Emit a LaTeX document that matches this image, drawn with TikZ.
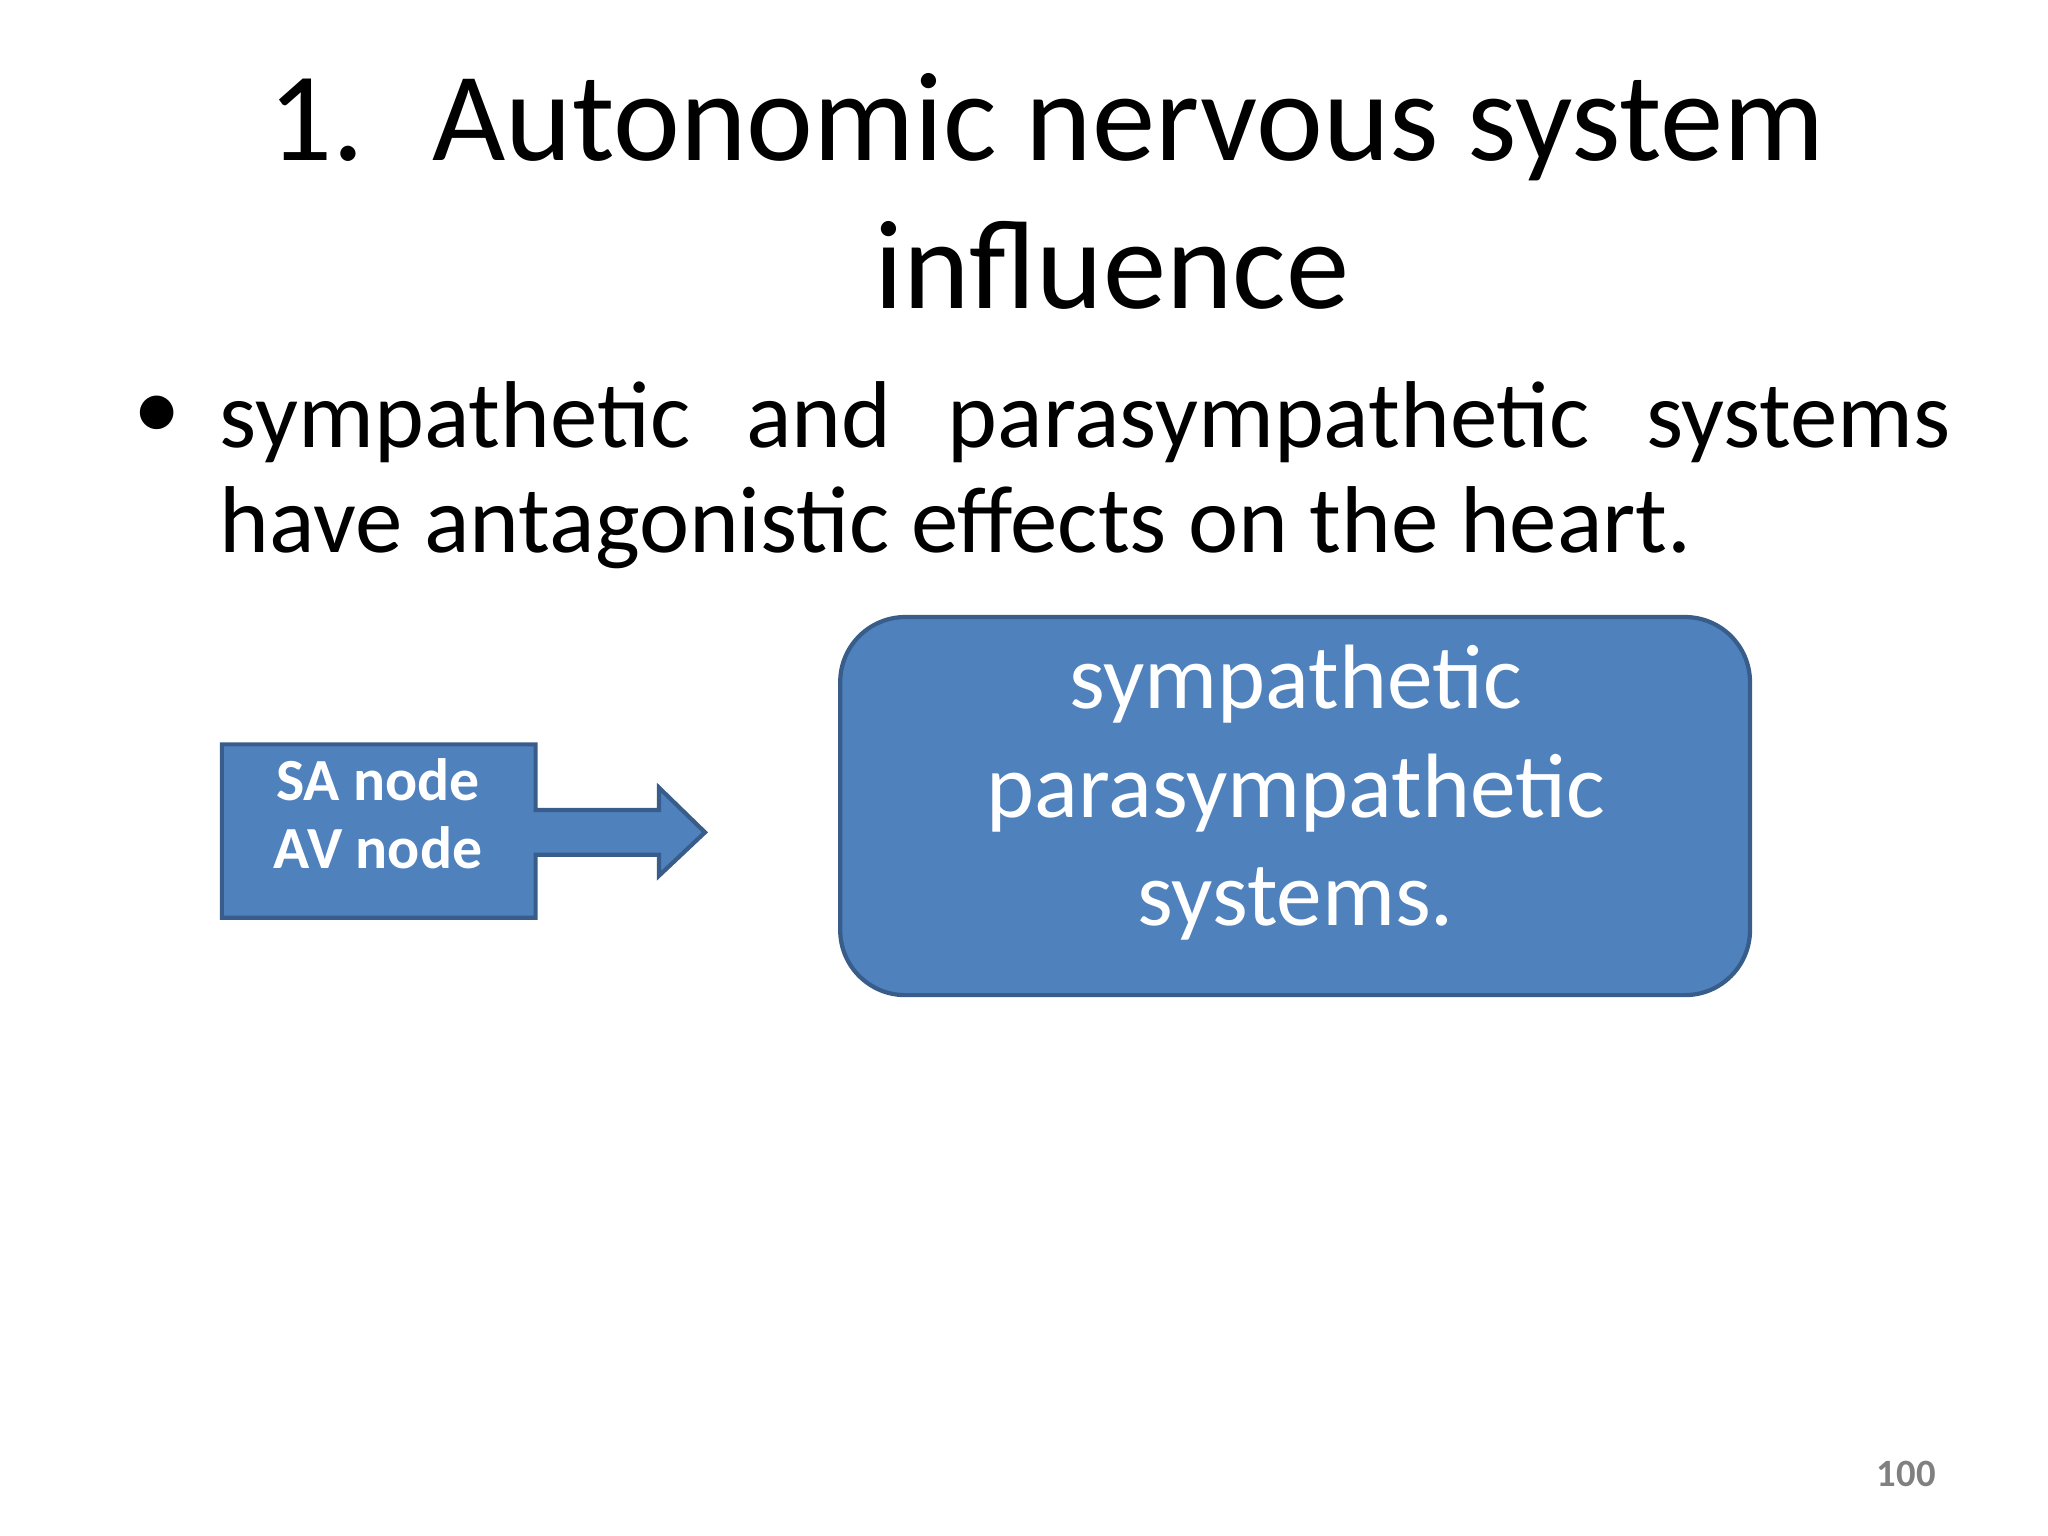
\documentclass[tikz,border=0pt]{standalone}
\usepackage{fontspec}
\setmainfont{Carlito}
\begin{document}
\begin{tikzpicture}[x=0.013128cm,y=-0.013128cm,
  blue/.style={fill={rgb,255:red,79;green,129;blue,189},draw={rgb,255:red,56;green,93;blue,138},line width=1.2pt},
  wtxt/.style={text=white,font=\fontsize{26}{31}\selectfont,align=center}]
\useasboundingbox (0,0) rectangle (1560,1170);
\node[anchor=base west,font=\fontsize{36}{43}\selectfont] (n1) at (195,122) {1.};
\node[anchor=base west,font=\fontsize{36}{43}\selectfont] (t1) at (320,122) {Autonomic nervous system};
\node[anchor=base,font=\fontsize{36}{43}\selectfont] (t2) at (847,235) {influence};
\node[anchor=base,font=\fontsize{27}{30}\selectfont] (b) at (120,335) {•};
\node[anchor=north west,inner sep=0pt,font=\fontsize{27}{30}\selectfont] (body) at (167,290)
 {\parbox{17.3cm}{\fontsize{27}{30}\selectfont sympathetic and parasympathetic systems have antagonistic effects on the heart.}};
\path[blue] (169,567)--(408,567)--(408,617)--(502,617)--(502,600)--(537,634)--(502,667)--(502,651)--(408,651)--(408,699)--(169,699)--cycle;
\node[text=white,font=\bfseries\fontsize{17}{19.5}\selectfont,align=center] (sa) at (288,620) {SA node\\AV node};
\draw[blue,rounded corners=0.65cm] (640,470) rectangle (1333,758);
\node[wtxt,anchor=base] (s1) at (987,540) {sympathetic};
\node[wtxt,anchor=base] (s2) at (987,623) {parasympathetic};
\node[wtxt,anchor=base] (s3) at (987,705) {systems.};
\node[anchor=base,text={rgb,255:red,128;green,128;blue,128},font=\bfseries\fontsize{11}{13}\selectfont] (pg) at (1452,1132) {100};
\end{tikzpicture}
\end{document}
